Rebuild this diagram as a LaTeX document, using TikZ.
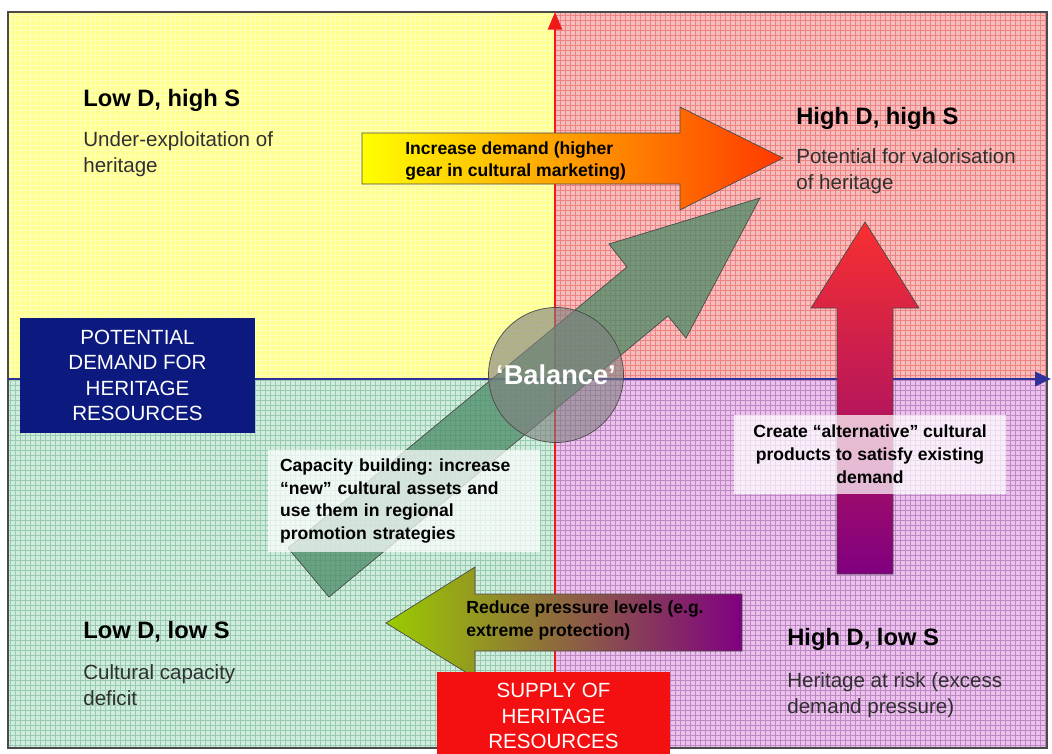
\documentclass[tikz,border=0pt]{standalone}
\usepackage{fontspec}
\setmainfont{Liberation Sans}
\usetikzlibrary{arrows.meta, positioning}
\definecolor{framegray}{HTML}{4A4A4A}
\definecolor{textgray}{HTML}{303030}
\definecolor{qyellow}{HTML}{FFFF90}
\definecolor{qyellowline}{HTML}{FFFFBC}
\definecolor{qred}{HTML}{F7BCBC}
\definecolor{qredline}{HTML}{EC8484}
\definecolor{qgreen}{HTML}{D0ECDD}
\definecolor{qgreenline}{HTML}{98CAB1}
\definecolor{qpurple}{HTML}{ECC2EC}
\definecolor{qpurpleline}{HTML}{BC88C4}
\definecolor{axisred}{HTML}{F01818}
\definecolor{axisblue}{HTML}{30319A}
\definecolor{demandblue}{HTML}{0C1A80}
\definecolor{supplyred}{HTML}{F41010}
\definecolor{capgreen}{HTML}{4A8A66}
\definecolor{gearyellow}{HTML}{FFFF00}
\definecolor{gearred}{HTML}{FF3800}
\definecolor{altred}{HTML}{F83030}
\definecolor{altpurple}{HTML}{800080}
\definecolor{reducegreen}{HTML}{9ACC00}
\tikzset{
  % quadrant headings and texts
  qhead/.style={anchor=west, inner sep=0pt,
                font=\fontsize{13.5}{16}\selectfont\bfseries},
  qtext/.style={anchor=west, inner sep=0pt, align=left, text=textgray,
                font=\fontsize{11.7}{14.7}\selectfont},
  % quadrant background with its fine grid
  qgrid/.style={draw=#1, line width=0.4pt, step=0.1cm},
  % axis name boxes -- usage: \node[axisbox=demandblue] ...
  axisbox/.style={rectangle, fill=#1, text=white, align=center, inner sep=0pt,
                  font=\fontsize{11.7}{14.4}\selectfont},
  axisline/.style={line width=#1, -{Triangle[length=9pt,width=8pt]}},
  % block arrows and their texts
  barrow/.style={draw=framegray, line width=0.4pt},
  atext/.style={inner sep=0pt, align=left,
                font=\fontsize{10}{13}\selectfont\bfseries},
  notebox/.style={rectangle, fill=white, fill opacity=0.72, text opacity=1,
                  inner ysep=0pt, font=\fontsize{10}{13}\selectfont\bfseries},
}

\begin{document}
\frenchspacing
\begin{tikzpicture}[x=0.02cm, y=-0.02cm]

\useasboundingbox (0,0) rectangle (1052,754);

% ── Frame corners and origin ─────────────────────────────────────────────────
\coordinate (nw)   at (8,12);
\coordinate (se)   at (1047,748);
\coordinate (o)    at (555,379);
\coordinate (xend) at (1051,379);

% ── Quadrants ────────────────────────────────────────────────────────────────
\fill[qyellow] (nw) rectangle (o);
\draw[qgrid=qyellowline] (nw) grid (o);
\fill[qred] (nw -| se) rectangle (o);
\draw[qgrid=qredline] (o |- nw) grid (o -| se);
\fill[qgreen] (nw |- se) rectangle (o);
\draw[qgrid=qgreenline] (nw |- o) grid (o |- se);
\fill[qpurple] (o) rectangle (se);
\draw[qgrid=qpurpleline] (o) grid (se);
\draw[framegray, line width=1.1pt] (nw) rectangle (se);

% ── Axes ─────────────────────────────────────────────────────────────────────
\draw[axisline=1.2pt, draw=axisred, -{Triangle[length=10pt,width=8pt]}]
  (o |- se) -- (o |- nw);
\draw[axisline=1.7pt, draw=axisblue] (nw |- o) -- (xend);

% ── Capacity building arrow + balance ────────────────────────────────────────
\fill[capgreen, fill opacity=0.75]
  (288,548) -- (627,267) -- (609,244) -- (760,198) -- (686,338)
  -- (668,316) -- (329,597) -- cycle;
\draw[barrow]
  (288,548) -- (627,267) -- (609,244) -- (760,198) -- (686,338)
  -- (668,316) -- (329,597) -- cycle;
\node[circle, minimum size=2.32cm, fill=gray, fill opacity=0.62,
      draw=framegray, text=white, text opacity=1,
      font=\fontsize{15.5}{18}\selectfont\bfseries] (balance) at (556,375)
  {‘Balance’};
\node[notebox, text width=4.96cm, inner xsep=0.24cm, minimum height=2.04cm,
      align=left] (capnote) at (404,501)
  {Capacity building: increase\\“new” cultural assets and\\use them in regional\\promotion strategies};

% ── Increase demand arrow ────────────────────────────────────────────────────
\shadedraw[barrow, left color=gearyellow, right color=gearred]
  (362,133) -- (680,133) -- (680,107) -- (783,158) -- (680,210)
  -- (680,184) -- (362,184) -- cycle;
\node[atext, anchor=west] (gear) at (405,161)
  {Increase demand (higher\\gear in cultural marketing)};

% ── Alternative products arrow ───────────────────────────────────────────────
\shadedraw[barrow, top color=altred, bottom color=altpurple]
  (837,574) -- (837,308) -- (811,308) -- (865,222) -- (919,308)
  -- (893,308) -- (893,574) -- cycle;
\node[notebox, minimum width=5.44cm, minimum height=1.58cm, align=center]
  (altnote) at (870,454.5)
  {Create “alternative” cultural\\products to satisfy existing\\demand};

% ── Reduce pressure arrow ────────────────────────────────────────────────────
\shadedraw[barrow, left color=reducegreen, right color=altpurple]
  (742,594) -- (475,594) -- (475,567) -- (386,623) -- (475,678)
  -- (475,651) -- (742,651) -- cycle;
\node[atext, anchor=west] (reduce) at (466,620.5)
  {Reduce pressure levels (e.g.\\extreme protection)};

% ── Axis names ───────────────────────────────────────────────────────────────
\node[axisbox=demandblue, minimum width=4.7cm, minimum height=2.3cm]
  (demand) at (137.5,375.5) {POTENTIAL\\DEMAND FOR\\HERITAGE\\RESOURCES};
\node[axisbox=supplyred, minimum width=4.66cm, minimum height=1.76cm]
  (supply) at (553.5,716) {SUPPLY OF\\HERITAGE\\RESOURCES};

% ── Quadrant labels ──────────────────────────────────────────────────────────
\node[qhead] (lhhead) at (83,100) {Low D, high S};
\node[qtext] (lhtext) at (83,154) {Under-exploitation of\\heritage};
\node[qhead] (hhhead) at (796,118) {High D, high S};
\node[qtext] (hhtext) at (796,171) {Potential for valorisation\\of heritage};
\node[qhead] (llhead) at (83,632) {Low D, low S};
\node[qtext] (lltext) at (83,685) {Cultural capacity\\deficit};
\node[qhead] (hlhead) at (787,639) {High D, low S};
\node[qtext] (hltext) at (787,695) {Heritage at risk (excess\\demand pressure)};

\end{tikzpicture}
\end{document}
